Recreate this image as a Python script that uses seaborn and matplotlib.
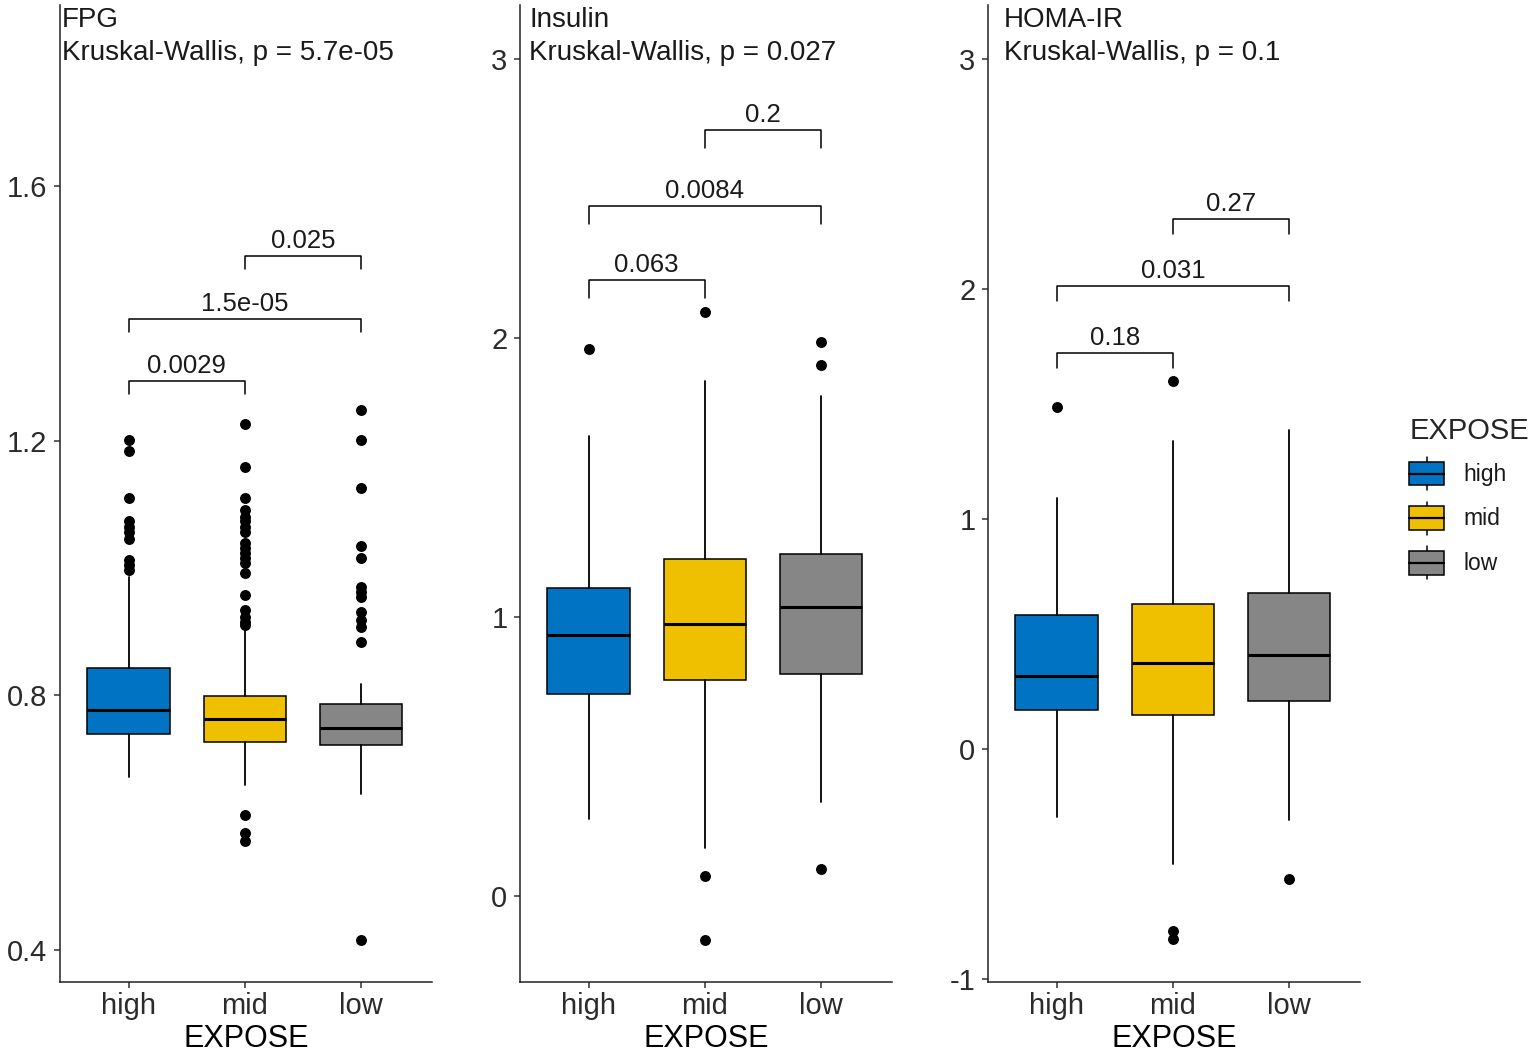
import matplotlib
matplotlib.use("Agg")
import matplotlib.pyplot as plt
import seaborn as sns
import pandas as pd
from matplotlib.patches import Rectangle
from matplotlib.lines import Line2D
from matplotlib.legend_handler import HandlerBase

groups = ["high", "mid", "low"]
colors = ["#0073C2", "#EFC000", "#868686"]

# FPG
fpg_q1 = [0.739, 0.727, 0.721]
fpg_med = [0.776, 0.762, 0.749]
fpg_q3 = [0.842, 0.798, 0.786]
fpg_lo = [0.671, 0.658, 0.644]
fpg_hi = [0.986, 0.903, 0.818]
fpg_fliers = [
    [1.201, 1.184, 1.110, 1.073, 1.065, 1.057, 1.045, 1.012, 1.004, 0.996],
    [1.226, 1.158, 1.110, 1.091, 1.080, 1.073, 1.065, 1.057, 1.039, 1.031,
     1.023, 1.015, 1.007, 0.992, 0.957, 0.934, 0.923, 0.915, 0.910,
     0.612, 0.583, 0.570],
    [1.248, 1.201, 1.125, 1.034, 1.016, 0.970, 0.962, 0.955, 0.931, 0.918,
     0.907, 0.883, 0.415],
]
fpg_pvals = ["0.0029", "1.5e-05", "0.025"]
fpg_bracket_y = [1.294, 1.391, 1.490]

# Insulin
ins_q1 = [0.725, 0.776, 0.797]
ins_med = [0.937, 0.975, 1.035]
ins_q3 = [1.105, 1.208, 1.225]
ins_lo = [0.276, 0.172, 0.336]
ins_hi = [1.650, 1.847, 1.794]
ins_fliers = [
    [1.960],
    [2.094, 0.072, -0.157],
    [1.986, 1.902, 0.098],
]
ins_pvals = ["0.063", "0.0084", "0.2"]
ins_bracket_y = [2.208, 2.473, 2.746]

# HOMA-IR
homa_q1 = [0.170, 0.150, 0.209]
homa_med = [0.316, 0.374, 0.409]
homa_q3 = [0.584, 0.630, 0.680]
homa_lo = [-0.296, -0.499, -0.310]
homa_hi = [1.093, 1.341, 1.387]
homa_fliers = [
    [1.486],
    [1.600, -0.790, -0.828],
    [-0.563],
]
homa_pvals = ["0.18", "0.031", "0.27"]
homa_bracket_y = [1.722, 2.013, 2.304]

pairs = [(0, 1), (0, 2), (1, 2)]

sns.set_style("ticks")
plt.rcParams['font.family'] = ['Liberation Sans', 'DejaVu Sans']
plt.rcParams['axes.unicode_minus'] = False

TXT = "#1a1a1a"


class BoxKey(HandlerBase):
    # legend key drawn like a small ggplot boxplot
    def create_artists(self, legend, orig_handle, xdescent, ydescent,
                       width, height, fontsize, trans):
        x0, y0 = -xdescent, -ydescent
        bh = height * 0.72
        by = y0 + (height - bh) / 2
        xm = x0 + width / 2
        stub = Line2D([xm, xm], [y0, y0 + height], color="black", lw=1.1, transform=trans)
        box = Rectangle((x0, by), width, bh, facecolor=orig_handle.get_color(),
                        edgecolor="black", lw=1.1, transform=trans)
        med = Line2D([x0, x0 + width], [y0 + height / 2] * 2, color="black", lw=1.6, transform=trans)
        return [stub, box, med]


def draw_panel(ax, title, kw_p, q1, med, q3, lo, hi, fliers, pvals, bracket_y, tip, ylim, yticks, text_x):
    stats = []
    for i, g in enumerate(groups):
        stats.append(dict(label=g, q1=q1[i], med=med[i], q3=q3[i],
                          whislo=lo[i], whishi=hi[i], fliers=[]))
    bp = ax.bxp(stats, positions=[0, 1, 2], widths=0.71, patch_artist=True,
                showcaps=False, showfliers=False,
                boxprops=dict(edgecolor="black", linewidth=1.1),
                medianprops=dict(color="black", linewidth=2.2),
                whiskerprops=dict(color="black", linewidth=1.3))
    for patch, c in zip(bp['boxes'], colors):
        patch.set_facecolor(c)

    pts = pd.DataFrame({
        "pos": [i for i, f in enumerate(fliers) for _ in f],
        "value": [v for f in fliers for v in f],
    })
    sns.scatterplot(data=pts, x="pos", y="value", color="black", s=62,
                    linewidth=0, ax=ax, legend=False, zorder=3)

    for (i, j), y, lab in zip(pairs, bracket_y, pvals):
        ax.plot([i, i, j, j], [y - tip, y, y, y - tip], color="black", lw=1.1)
        ax.annotate(lab, xy=((i + j) / 2, y), xytext=(0, 2), textcoords="offset points",
                    ha="center", va="bottom", fontsize=18.5, color=TXT)

    ax.set_xlim(-0.59, 2.61)
    ax.set_ylim(*ylim)
    ax.set_yticks(yticks)
    ax.set_xticks([0, 1, 2])
    ax.set_xticklabels(groups)
    ax.set_ylabel("")
    ax.set_xlabel("EXPOSE", fontsize=22, color="black", labelpad=3)
    ax.tick_params(axis="both", labelsize=21, labelcolor="#2b2b2b", length=4, width=1.1,
                   direction="out", color="#333333")
    ax.tick_params(axis="y", pad=5)
    ax.tick_params(axis="x", pad=3)
    for s in ["left", "bottom"]:
        ax.spines[s].set_linewidth(1.1)
        ax.spines[s].set_color("#222222")
    sns.despine(ax=ax)

    ax.text(text_x, 0.9775, title, transform=ax.transAxes, fontsize=20,
            ha="left", va="baseline", color=TXT)
    ax.text(text_x, 0.9437, "Kruskal-Wallis, p = " + kw_p, transform=ax.transAxes,
            fontsize=20, ha="left", va="baseline", color=TXT)


fig = plt.figure(figsize=(15.32, 10.51), dpi=100)
W, H = 1532, 1051
lefts = [60, 520, 988]
axes = [fig.add_axes([l / W, (H - 982) / H, 372 / W, 977 / H]) for l in lefts]

draw_panel(axes[0], "FPG", "5.7e-05", fpg_q1, fpg_med, fpg_q3, fpg_lo, fpg_hi, fpg_fliers,
           fpg_pvals, fpg_bracket_y, 0.020, (0.349, 1.885), [0.4, 0.8, 1.2, 1.6], 0.006)
draw_panel(axes[1], "Insulin", "0.027", ins_q1, ins_med, ins_q3, ins_lo, ins_hi, ins_fliers,
           ins_pvals, ins_bracket_y, 0.065, (-0.308, 3.194), [0, 1, 2, 3], 0.025)
draw_panel(axes[2], "HOMA-IR", "0.1", homa_q1, homa_med, homa_q3, homa_lo, homa_hi, homa_fliers,
           homa_pvals, homa_bracket_y, 0.065, (-1.013, 3.235), [-1, 0, 1, 2, 3], 0.043)

handles = [Line2D([], [], color=c) for c in colors]
leg = fig.legend(handles, groups, title="EXPOSE", loc="upper left",
                 bbox_to_anchor=(1398 / W, 1 - 406 / H), frameon=False,
                 handler_map={Line2D: BoxKey()}, fontsize=16.5, title_fontsize=21,
                 handlelength=1.5, handleheight=1.85, labelspacing=0.5,
                 handletextpad=0.85, borderpad=0, alignment="left")
for t in leg.get_texts():
    t.set_color(TXT)

fig.savefig("out.png", dpi=100)
